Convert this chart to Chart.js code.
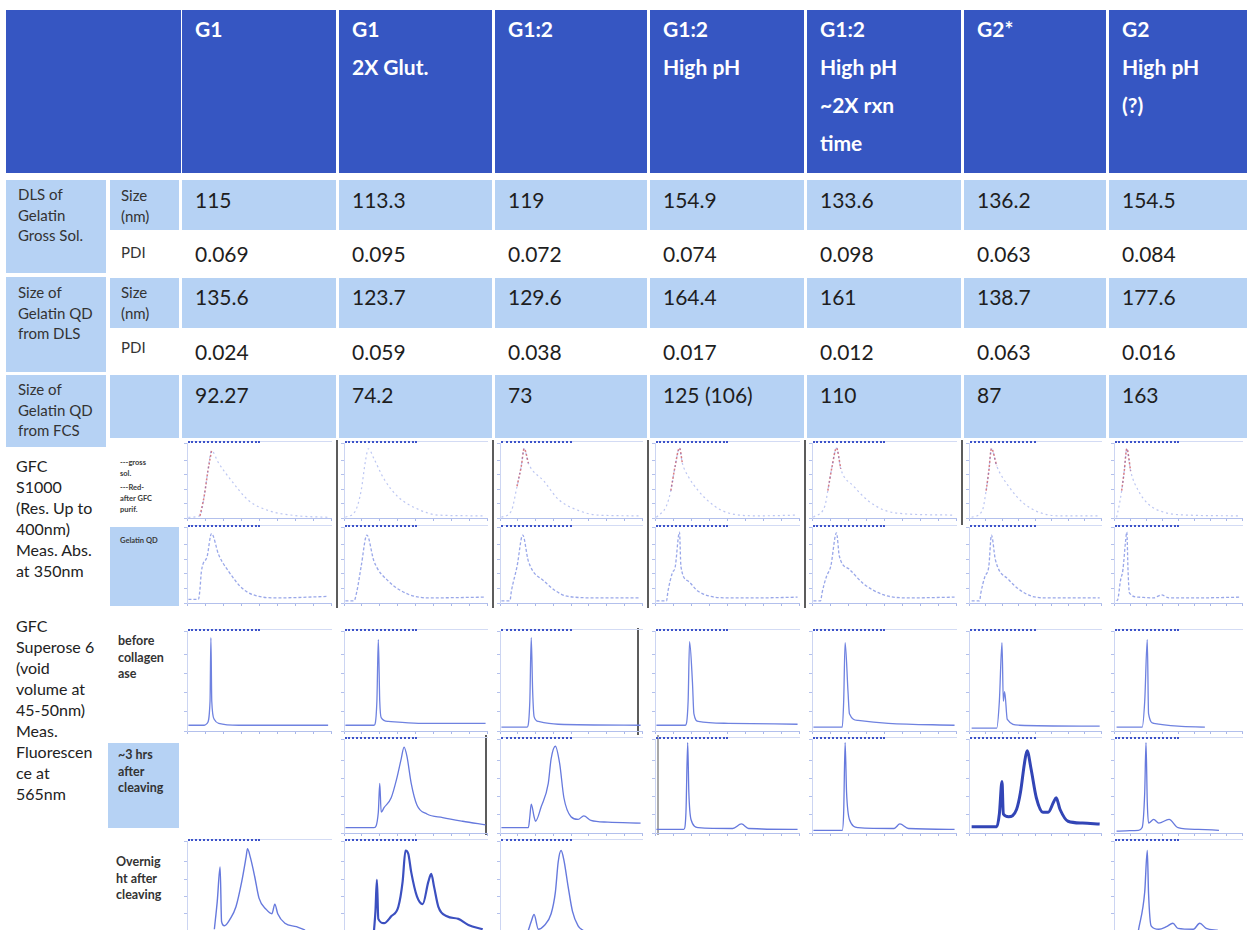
<!DOCTYPE html>
<html>
<head>
<meta charset="utf-8">
<script src="https://cdn.jsdelivr.net/npm/chart.js@4.4.0/dist/chart.umd.min.js"></script>
<style>
body{margin:0;background:#fff;width:1247px;height:930px;overflow:hidden;position:relative;font-family:Lato,"Open Sans",sans-serif;color:#262626}
.abs{position:absolute}
.hd{background:#3656c2}
.lb{background:#b6d2f4}
.hdtxt{color:#fff;font-weight:bold;font-size:21px;line-height:38px;white-space:pre}
.val{font-size:21px;line-height:21px;white-space:nowrap;color:#1e1e1e}
.lab{font-size:15px;line-height:20.5px;white-space:pre;color:#333}
.big{font-size:16px;line-height:21px;white-space:pre;color:#222}
.sm{font-size:12.5px;line-height:16.5px;font-weight:bold;white-space:pre;color:#333}
.tiny{font-size:7.5px;line-height:11px;font-weight:bold;white-space:pre;color:#3a3a3a}
.bar{height:0;border-top:2px dotted #3d53c9}
.faint{height:0;border-top:1px solid #d3dbf4}
.sep{width:2px;background:#5c5c5c}
</style>
</head>
<body>
<script>
// column headings and measured values
var groups = ['G1', 'G1\n2X Glut.', 'G1:2', 'G1:2\nHigh pH', 'G1:2\nHigh pH\n~2X rxn\ntime', 'G2*', 'G2\nHigh pH\n(?)'];
var dlsSize = ['115', '113.3', '119', '154.9', '133.6', '136.2', '154.5'];
var dlsPdi = ['0.069', '0.095', '0.072', '0.074', '0.098', '0.063', '0.084'];
var qdSize = ['135.6', '123.7', '129.6', '164.4', '161', '138.7', '177.6'];
var qdPdi = ['0.024', '0.059', '0.038', '0.017', '0.012', '0.063', '0.016'];
var fcsSize = ['92.27', '74.2', '73', '125 (106)', '110', '87', '163'];

// chromatograms, [elution %, signal %] per column
var s1000Gross = [
  [[1,1],[9,3],[12,31],[14.5,65],[17,93],[22,76],[30,54],[43,24],[57,10],[77,3],[98,1]],
  [[1,1],[8,10],[12,38],[15,79],[17,96],[21,82],[28,54],[38,29],[52,12],[66,4],[99,3]],
  [[1,1],[8,10],[12,44],[15,72],[17,96],[20,76],[31,51],[41,26],[52,13],[69,4],[99,3]],
  [[1,1],[8,17],[11,38],[14,72],[17,97],[19,76],[23,58],[30,38],[41,17],[51,7],[72,3],[99,4]],
  [[1,1],[9,17],[11,38],[14,72],[17,97],[20,68],[29,44],[39,24],[50,11],[63,6],[99,4]],
  [[2,1],[10,10],[13,38],[15,65],[17,96],[21,72],[30,44],[41,21],[53,8],[68,3],[99,3]],
  [[2,1],[4,17],[6,38],[8,65],[10,96],[13,65],[19,38],[27,19],[39,8],[58,4],[99,3]]
];
var s1000Purified = [
  [[9,3],[12,31],[14.5,65],[17,93]],
  [],
  [[12,44],[15,72],[17,96],[20,76]],
  [[11,38],[14,72],[17,97],[19,76]],
  [[11,38],[14,72],[17,97],[20,68]],
  [[13,38],[15,65],[17,96],[21,72]],
  [[6,38],[8,65],[10,96],[13,65]]
];
var s1000Qd = [
  [[1,5],[8,5],[9,19],[10,43],[14,64],[17,95],[22,66],[29,43],[39,19],[50,9],[63,7],[98,9]],
  [[1,3],[7,3],[9,16],[12,50],[16,93],[21,57],[31,30],[45,12],[59,7],[99,8]],
  [[1,3],[7,3],[8,16],[12,50],[16,93],[20,57],[31,30],[48,9],[69,7],[99,7]],
  [[1,3],[8,3],[9,16],[12,41],[14,49],[17,97],[18,50],[23,30],[30,16],[51,7],[72,7],[99,8]],
  [[1,3],[6,3],[7,14],[10,36],[13,50],[17,96],[19,64],[26,46],[36,26],[50,11],[67,7],[99,8]],
  [[2,3],[8,3],[9,14],[12,36],[15,50],[17,93],[20,59],[30,32],[45,11],[60,7],[99,7]],
  [[2,3],[3,5],[5,30],[7,46],[9,84],[10,97],[11,43],[12,14],[19,8],[31,7],[37,11],[43,7],[66,7],[99,8]]
];
var sup6Before = [
  [[1,6],[12,6],[14,8],[16,31],[16.6,97],[17.2,31],[19,12],[22,8],[36,6],[98,6]],
  [[1,6],[21,6],[23,31],[24,95],[25,31],[26,14],[31,10],[52,8],[99,8]],
  [[1,4],[19,4],[21,31],[22,97],[23,41],[24,15],[27,10],[41,7],[99,6]],
  [[1,6],[21,6],[23,31],[24,93],[26,51],[27,18],[30,10],[51,8],[99,7]],
  [[1,4],[21,4],[22,31],[23,92],[25,41],[26,18],[32,11],[53,8],[99,6]],
  [[2,3],[21,3],[23,31],[25,92],[26,31],[27,41],[29,12],[38,6],[99,5]],
  [[2,4],[22,4],[24,31],[26,95],[27,18],[31,8],[50,5],[71,4]]
];
var sup6ThreeHrs = [
  null,
  [[1,6],[21,6],[24,23],[25,55],[26,23],[28,28],[33,39],[37,61],[40,82],[42,95],[44,85],[47,55],[51,31],[58,21],[69,17],[83,13],[99,9]],
  [[1,6],[20,6],[21,18],[22,32],[24,18],[25,13],[29,29],[34,55],[36,82],[39,96],[42,77],[45,39],[50,18],[55,15],[59,19],[64,14],[76,12],[99,11]],
  [[1,4],[20,4],[21.5,23],[22.7,100],[23.5,45],[25,15],[30,6],[54,5],[60,10],[65,5],[99,4]],
  [[1,3],[21,3],[22,23],[23,100],[24,45],[26,15],[32,6],[57,5],[61,10],[67,5],[99,4]],
  [[2,7],[21,7],[23,21],[25,57],[26,21],[30,18],[36,26],[39,45],[42,77],[44,91],[47,71],[51,39],[56,23],[60,23],[64,34],[66,39],[69,26],[75,13],[86,11],[99,10]],
  [[2,2],[19,3],[22,6],[24,45],[25,100],[26,34],[27,11],[31,15],[35,11],[43,15],[50,6],[66,4],[82,3]]
];
var sup6Overnight = [
  [[19,2],[21,34],[23,74],[24,11],[26,6],[30,14],[34,28],[38,57],[41,85],[42,95],[44,85],[47,63],[50,38],[55,25],[59,20],[61,31],[63,20],[68,9],[76,5],[82,1]],
  [[21,1],[22,23],[23,59],[24,14],[28,9],[33,17],[38,28],[41,57],[43,93],[45,89],[47,68],[51,40],[55,31],[59,57],[61,66],[63,51],[66,28],[72,17],[80,14],[87,7],[97,2]],
  [[20,1],[22,11],[24,19],[27,2],[31,6],[36,20],[39,45],[41,80],[43,93],[45,82],[48,51],[51,23],[55,6],[59,0]],
  null, null, null,
  [[19,0],[24,45],[26,93],[27,43],[29,6],[35,2],[41,5],[46,9],[50,3],[62,2],[67,9],[72,3],[81,1]]
];

var colX = [182, 339, 495, 650, 807, 964, 1109];
var colW = [154, 153, 152, 154, 154, 142, 138];

function box(cls, x, y, w, h, text) {
  var d = document.createElement('div');
  d.className = 'abs ' + cls;
  d.style.left = x + 'px';
  d.style.top = y + 'px';
  if (w != null) d.style.width = w + 'px';
  if (h != null) d.style.height = h + 'px';
  if (text != null) d.textContent = text;
  document.body.appendChild(d);
  return d;
}

// header band
box('hd', 6, 10, 175, 163);
for (var i = 0; i < 7; i++) {
  box('hd', colX[i], 10, (i == 6 ? 1247 - colX[i] : colW[i]), 163);
  box('hdtxt', colX[i] + 13, 10, null, null, groups[i]);
}

// value rows
var valueRows = [
  {vals: dlsSize, top: 180, h: 50, bg: 'lb', base: 208},
  {vals: dlsPdi, top: 232, h: 43, bg: '', base: 262},
  {vals: qdSize, top: 278, h: 50, bg: 'lb', base: 305},
  {vals: qdPdi, top: 330, h: 42, bg: '', base: 360},
  {vals: fcsSize, top: 375, h: 63, bg: 'lb', base: 403}
];
valueRows.forEach(function (r) {
  for (var i = 0; i < 7; i++) {
    if (r.bg) box(r.bg, colX[i], r.top, (i == 6 ? 1247 - colX[i] : colW[i]), r.h);
    box('val', colX[i] + 13, r.base - 19, null, null, r.vals[i]);
  }
});

// row labels
box('lb', 6, 180, 100, 93);
box('lb', 6, 277, 100, 95);
box('lb', 6, 375, 100, 72);
box('lb', 110, 180, 69, 50);
box('lb', 110, 278, 69, 50);
box('lb', 110, 375, 69, 63);
box('lab', 18, 184, null, null, 'DLS of\nGelatin\nGross Sol.');
box('lab', 18, 282, null, null, 'Size of\nGelatin QD\nfrom DLS');
box('lab', 18, 379, null, null, 'Size of\nGelatin QD\nfrom FCS');
box('lab', 121, 185, null, null, 'Size\n(nm)');
box('lab', 121, 242, null, null, 'PDI');
box('lab', 121, 282, null, null, 'Size\n(nm)');
box('lab', 121, 337, null, null, 'PDI');

box('big', 16, 455, null, null, 'GFC\nS1000\n(Res. Up to\n400nm)\nMeas. Abs.\nat 350nm');
box('big', 16, 615, null, null, 'GFC\nSuperose 6\n(void\nvolume at\n45-50nm)\nMeas.\nFluorescen\nce at\n565nm');

box('tiny', 120, 457, null, null, '---gross\nsol.');
box('tiny', 120, 482, null, null, '---Red-\nafter GFC\npurif.');
box('lb', 110, 527, 69, 79);
box('tiny', 120, 535, null, null, 'Gelatin QD');
box('sm', 118, 633, null, null, 'before\ncollagen\nase');
box('lb', 108, 743, 71, 85);
box('sm', 118, 747, null, null, '~3 hrs\nafter\ncleaving');
box('sm', 116, 854, null, null, 'Overnig\nht after\ncleaving');

// panel frame lines left over from the instrument screenshots
[[336, 440, 168], [492, 440, 168], [647, 440, 168], [804, 440, 168], [961, 440, 85],
 [637, 628, 107], [485, 735, 100]].forEach(function (s) { box('sep', s[0], s[1], null, s[2]); });
box('sep', 657, 735, null, 100).style.background = '#a9a9a9';

function traceSet(points, color, width, dash) {
  return {
    data: points,
    borderColor: color,
    borderWidth: width,
    borderDash: dash || [],
    pointRadius: 0,
    fill: false,
    cubicInterpolationMode: 'monotone'
  };
}

function panel(i, top, h, sets) {
  var x = colX[i] + 2, w = colW[i] - 5;
  // header strip drawn by the chromatography software
  box('faint', colX[i] + 6, top - 2, colW[i] - 10);
  box('bar', colX[i] + 6, top - 2, Math.round((colW[i] - 10) * 0.5));
  var cv = document.createElement('canvas');
  cv.width = w;
  cv.height = h;
  cv.className = 'abs';
  cv.style.left = x + 'px';
  cv.style.top = top + 'px';
  document.body.appendChild(cv);
  new Chart(cv, {
    type: 'line',
    data: {datasets: sets},
    options: {
      animation: false,
      responsive: false,
      events: [],
      layout: {padding: {top: 0, right: 2, bottom: 0, left: 0}},
      plugins: {legend: {display: false}, tooltip: {enabled: false}},
      scales: {
        x: {
          type: 'linear', min: 0, max: 100,
          ticks: {display: false, stepSize: 12.5},
          grid: {drawOnChartArea: false, tickLength: 3, color: '#a9b7e8'},
          border: {color: '#b3c0ec', width: 1}
        },
        y: {
          min: 0, max: 104,
          ticks: {display: false, stepSize: 20},
          grid: {drawOnChartArea: false, tickLength: 3, color: '#b3c0ec'},
          border: {color: '#ccd5f2', width: 1}
        }
      }
    }
  });
}

for (var c = 0; c < 7; c++) {
  panel(c, 443, 78, [
    traceSet(s1000Gross[c], 'rgba(80,105,220,0.38)', 1.2, [2, 3]),
    traceSet(s1000Purified[c], 'rgba(200,70,80,0.7)', 1.5, [2, 2])
  ]);
  panel(c, 527, 79, [traceSet(s1000Qd[c], 'rgba(70,95,215,0.55)', 1.3, [3, 2])]);
  panel(c, 631, 103, [traceSet(sup6Before[c], '#6f82e0', 1.3)]);
  if (sup6ThreeHrs[c]) {
    var thick = c == 5;
    panel(c, 739, 97, [traceSet(sup6ThreeHrs[c], thick ? '#3245b6' : '#6679dd', thick ? 3 : 1.3)]);
  }
  if (sup6Overnight[c]) {
    panel(c, 841, 93, [traceSet(sup6Overnight[c], c == 1 ? '#3c50c0' : '#6679dd', c == 1 ? 2.2 : 1.4)]);
  }
}
</script>
</body>
</html>
